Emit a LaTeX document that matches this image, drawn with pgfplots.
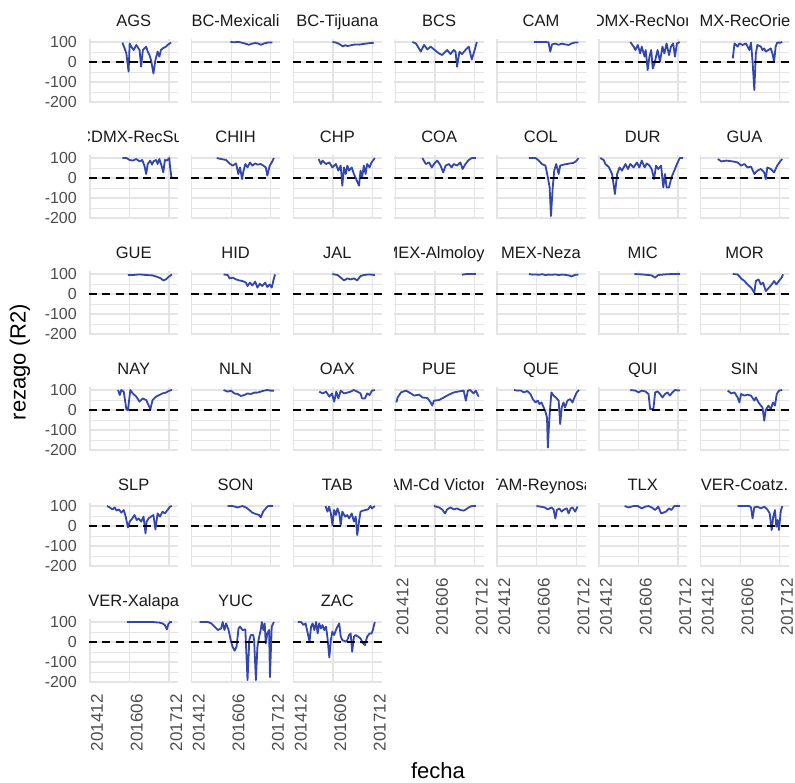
\documentclass[border=0pt]{standalone}
\usepackage{fontspec}
\setmainfont{Liberation Sans}
\usepackage{pgfplots}
\pgfplotsset{compat=1.18}
\usepgfplotslibrary{groupplots}
\definecolor{serblue}{RGB}{50,70,172}
\definecolor{gridc}{RGB}{228,228,228}
\definecolor{tickc}{RGB}{77,77,77}
\definecolor{stripc}{RGB}{26,26,26}
\newcommand{\tickfont}{\fontsize{16pt}{18pt}\selectfont}
\newcommand{\xtickfont}{\fontsize{17pt}{19pt}\selectfont}
\newcommand{\stripfont}{\fontsize{16.5pt}{19pt}\selectfont}
\newcommand{\titlefont}{\fontsize{22pt}{26pt}\selectfont}
\pgfplotsset{
 facet/.style={width=89.5pt,height=64pt,scale only axis,
  xmin=-0.4,xmax=40.3,ymin=-205,ymax=114.5,
  xtick={0,18,36}, ytick={-200,-100,0,100}, minor ytick={-150,-50,50},
  xticklabels={}, yticklabels={},
  grid=both, major grid style={gridc,line width=1.3pt}, minor grid style={gridc,line width=0.7pt},
  axis line style={draw=none}, major tick length=0pt, minor tick length=0pt, tick style={draw=none},
  yticklabel style={font=\tickfont, text=tickc, inner sep=0pt, xshift=-12pt},
  xticklabel style={font=\xtickfont, text=tickc, inner sep=0pt, xshift=1pt, yshift=-11pt, rotate=90, anchor=north east}},
 strip/.style={extra description/.code={\begin{scope}\clip (axis description cs:0,1) rectangle (axis description cs:1,1.7);\node[anchor=base, inner sep=0pt, font=\stripfont, text=stripc] at ([yshift=12.3pt]axis description cs:0.5,1) {#1};\end{scope}}},
 ylab/.style={yticklabels={-200,-100,0,100}},
 xlab/.style={xticklabels={201412,201606,201712}},
 ser/.style={serblue, line width=1.8pt, line join=round, mark=none},
 zero/.style={black, line width=1.6pt, dash pattern=on 8pt off 5.5pt, mark=none},
}
\newcommand{\zline}{\addplot[zero] coordinates {(-0.4,0) (40.3,0)};}
\begin{document}
\begin{tikzpicture}
\begin{groupplot}[group style={group size=7 by 6, horizontal sep=12.3pt, vertical sep=52pt, group name=G}, facet]
% row 1
\nextgroupplot[strip={AGS}, ylab]
\addplot[ser] coordinates {(14.8,97)(15.8,68)(16.6,43)(17.6,-48)(18.1,93)(18.8,77)(19.9,60)(21.1,85)(22.6,60)(23.3,-23)(24.1,60)(25.6,77)(26.3,52)(27.1,35)(27.8,10)(28.9,-57)(29.8,10)(30.8,52)(31.6,27)(32.3,60)(33.1,68)(34.6,77)(35.3,85)(36.9,97)};
\zline
\nextgroupplot[strip={BC-Mexicali}]
\addplot[ser] coordinates {(17.6,100)(19,99)(21.5,100)(23,96)(25,90)(26,86)(27.5,92)(29,95)(30.5,92)(31.5,86)(33,93)(35,98)(36.7,98)};
\zline
\nextgroupplot[strip={BC-Tijuana}]
\addplot[ser] coordinates {(17.7,100)(19,98)(20.5,92)(21.5,85)(22.5,78)(23.5,84)(24.5,80)(25.5,82)(27,86)(28.5,88)(30,87)(31.5,90)(33,92)(35,95)(36.5,96)};
\zline
\nextgroupplot[strip={BCS}]
\addplot[ser] coordinates {(7.8,100)(9.4,93)(11.6,52)(13.1,85)(14.6,63)(16.1,77)(17.6,63)(19.9,43)(21.3,35)(23.6,60)(25.1,40)(26.6,60)(27.4,52)(28.1,-23)(29.2,52)(30.3,40)(31.9,60)(33.4,77)(34.8,13)(36.1,60)(37.1,100)};
\zline
\nextgroupplot[strip={CAM}]
\addplot[ser] coordinates {(16.7,100)(19,100)(22,100)(23.4,98)(24.2,52)(25,88)(26.5,92)(28,86)(29.4,92)(31,88)(32.5,85)(34,93)(35.5,98)(37,98)};
\zline
\nextgroupplot[strip={CDMX-RecNorte}]
\addplot[ser] coordinates {(14.3,100)(15.8,77)(16.6,60)(17.7,85)(18.8,43)(19.5,77)(20.8,27)(21.3,60)(22.2,-40)(23,27)(23.8,60)(24.5,-32)(25.3,-7)(26,27)(26.7,60)(27.8,2)(28.9,77)(29.8,43)(30.8,93)(31.9,35)(32.8,77)(33.8,93)(34.6,27)(35.5,93)(36.8,100)};
\zline
\nextgroupplot[strip={CDMX-RecOriente}]
\addplot[ser] coordinates {(14.6,18)(15.4,93)(16.8,77)(17.6,93)(19.1,85)(20.6,93)(22.1,60)(22.9,97)(23.6,2)(24.4,-140)(25.1,43)(25.8,85)(27.4,77)(28.1,60)(28.9,68)(29.6,52)(30.8,60)(31.9,68)(32.6,43)(33.4,2)(34.1,77)(34.8,97)(36.4,97)(37.1,100)};
\zline
% row 2
\nextgroupplot[strip={CDMX-RecSur}, ylab]
\addplot[ser] coordinates {(14.8,100)(16.6,100)(18.1,90)(19.5,87)(21.1,95)(22.6,83)(23.8,90)(24.8,62)(25.6,20)(26.3,70)(27.4,87)(28.3,67)(28.9,83)(30.1,90)(30.8,70)(31.6,95)(32.6,62)(33.4,28)(34.1,90)(35,87)(36.1,100)(36.5,53)(37.1,3)};
\zline
\nextgroupplot[strip={CHIH}]
\addplot[ser] coordinates {(11.4,100)(13.4,95)(15.7,90)(17.5,70)(18.6,62)(20.2,73)(21.2,20)(22,53)(22.9,-5)(23.6,37)(24.4,70)(25.4,53)(26.5,78)(27.6,62)(28.9,73)(29.9,67)(31.4,70)(32.6,62)(33.7,53)(34.4,12)(35.5,62)(36.4,78)(37.4,100)};
\zline
\nextgroupplot[strip={CHP}]
\addplot[ser] coordinates {(11.4,95)(12.5,70)(13.2,87)(14.8,70)(16.3,78)(17.7,53)(19.3,70)(20.4,37)(21.5,62)(22.2,-38)(23,53)(23.8,20)(24.5,62)(25.3,37)(26.5,53)(27.5,20)(28.5,-5)(29.8,-38)(30.5,37)(31.2,3)(32,62)(32.8,20)(33.5,70)(34.6,53)(35.5,78)(37,100)};
\zline
\nextgroupplot[strip={COA}]
\addplot[ser] coordinates {(12.3,100)(13.9,70)(15.4,78)(16.6,53)(17.6,70)(19.1,87)(20.6,62)(21.8,28)(22.9,62)(24.4,70)(25.6,53)(26.6,70)(28.1,62)(29.6,78)(30.6,45)(31.9,70)(33.4,90)(34.8,100)(36.6,100)};
\zline
\nextgroupplot[strip={COL}]
\addplot[ser] coordinates {(14.5,100)(17.5,100)(19,87)(20.4,70)(22,62)(23.1,3)(23.9,-47)(24.5,-190)(25.3,-47)(26,37)(26.9,70)(28,20)(28.7,62)(30.2,67)(31.7,70)(33.2,73)(34.7,75)(36.2,87)(37,100)};
\zline
\nextgroupplot[strip={DUR}]
\addplot[ser] coordinates {(0.6,100)(2.2,90)(3,70)(4.6,53)(6,20)(7.3,-80)(8.3,20)(9.4,53)(10.5,37)(12.1,70)(13.2,45)(14.3,70)(15.8,53)(17.3,78)(18.4,53)(19.5,87)(20.8,53)(21.8,73)(23,62)(24,45)(25.1,-5)(26,62)(27,45)(28.3,62)(29.3,-47)(30.1,20)(30.8,-47)(31.9,-47)(33,3)(34.3,37)(35.5,70)(36.8,100)(38.3,100)};
\zline
\nextgroupplot[strip={GUA}]
\addplot[ser] coordinates {(7.8,95)(9.4,83)(11.6,87)(14.6,83)(16.8,78)(18.4,62)(19.9,70)(21.3,53)(22.9,57)(24.4,20)(25.8,37)(27.4,45)(28.9,28)(29.6,-5)(30.3,53)(31.9,45)(33.4,28)(34.8,62)(36.4,87)(37.1,95)};
\zline
% row 3
\nextgroupplot[strip={GUE}, ylab]
\addplot[ser] coordinates {(17.3,95)(19.5,95)(22.6,98)(25.6,95)(28.5,93)(30.8,85)(32.3,78)(33.4,68)(34.6,73)(35.7,85)(37.3,98)};
\zline
\nextgroupplot[strip={HID}]
\addplot[ser] coordinates {(14.5,98)(16.4,95)(17.2,78)(18.6,82)(20.2,73)(21.6,68)(23.1,65)(24.7,57)(25.4,40)(26.5,57)(27.6,43)(28.9,62)(29.9,32)(31,52)(32.1,40)(33.4,57)(34.4,35)(35.5,48)(36.4,32)(37.1,65)(37.9,98)};
\zline
\nextgroupplot[strip={JAL}]
\addplot[ser] coordinates {(17.7,100)(20,95)(21.5,82)(23,68)(24.5,78)(26,73)(27.5,78)(29,68)(30.5,90)(32,95)(34.3,98)(37,95)};
\zline
\nextgroupplot[strip={MEX-Almoloya}]
\addplot[ser] coordinates {(30.3,96)(31.5,99)(33,100)(35,100)(36.6,100)};
\zline
\nextgroupplot[strip={MEX-Neza}]
\addplot[ser] coordinates {(14.5,100)(16,97)(17.5,98)(19,96)(20.5,99)(22,95)(23.5,97)(25,96)(26.5,98)(28,95)(29.5,97)(31,96)(32.5,93)(34,88)(35.5,96)(37,97)};
\zline
\nextgroupplot[strip={MIC}]
\addplot[ser] coordinates {(16.2,100)(19.5,98)(22.6,95)(24,93)(25.6,82)(27,95)(30,98)(33,100)(36.8,100)};
\zline
\nextgroupplot[strip={MOR}]
\addplot[ser] coordinates {(14.6,100)(16.8,98)(18.4,78)(19.9,65)(21.3,48)(22.9,32)(24.4,7)(25.1,65)(26.3,73)(27.4,48)(28.4,57)(29.6,15)(31.1,32)(32.3,48)(33.4,65)(34.4,48)(35.6,65)(36.8,82)(37.5,98)};
\zline
% row 4
\nextgroupplot[strip={NAY}, ylab]
\addplot[ser] coordinates {(12.8,100)(13.6,75)(14.3,100)(15.4,92)(16.6,3)(17.3,0)(18.4,100)(19.5,83)(21.1,67)(22.6,42)(24,58)(25.6,50)(26.7,25)(27.5,3)(28.5,50)(30.1,67)(31.6,75)(33,83)(34.6,87)(36.1,97)(37.3,100)};
\zline
\nextgroupplot[strip={NLN}]
\addplot[ser] coordinates {(14.5,100)(16.4,92)(17.9,97)(19.4,83)(20.9,80)(22.4,70)(23.9,75)(25.4,83)(26.9,80)(28.4,87)(29.9,87)(31.4,92)(32.9,97)(34.4,100)(35.9,97)(37.4,97)};
\zline
\nextgroupplot[strip={OAX}]
\addplot[ser] coordinates {(11.7,92)(13.2,83)(14.8,92)(16.3,67)(17.5,83)(18.5,42)(19.5,92)(20.4,58)(21.5,97)(23,83)(24.5,87)(26,92)(27.5,100)(29,92)(30.5,83)(31.2,58)(32.5,58)(33.5,83)(34.6,75)(35.7,97)(37,100)};
\zline
\nextgroupplot[strip={PUE}]
\addplot[ser] coordinates {(0.5,38)(1.1,63)(2.6,88)(4.9,97)(7.1,83)(8.6,72)(10.9,77)(12.3,63)(14.6,60)(16.1,38)(16.8,22)(17.6,47)(19.9,50)(22.1,63)(24.4,77)(26.6,88)(28.9,93)(31.1,97)(32.1,47)(33,97)(34.1,100)(35.6,83)(36.6,97)(37.9,67)};
\zline
\nextgroupplot[strip={QUE}]
\addplot[ser] coordinates {(7.7,100)(9.2,97)(10.7,98)(12.2,88)(13.7,95)(15.2,80)(16.2,55)(17.5,38)(18.5,47)(19.3,30)(20.2,38)(21.2,13)(22,-8)(22.7,-37)(23.1,-187)(23.8,-37)(24.7,88)(25.7,72)(26.7,63)(28,47)(28.7,-70)(29.4,13)(30.2,38)(30.9,13)(32,47)(33.2,55)(34.3,38)(35.2,63)(36.2,88)(37.3,100)};
\zline
\nextgroupplot[strip={QUI}]
\addplot[ser] coordinates {(14.3,100)(16.6,97)(18.1,88)(19.5,97)(21.1,93)(22.6,80)(23.3,5)(24.8,5)(25.6,88)(26.7,93)(27.8,80)(28.9,63)(30.1,80)(31.2,88)(32.3,72)(33.4,88)(34.6,100)(36.8,97)};
\zline
\nextgroupplot[strip={SIN}]
\addplot[ser] coordinates {(12.3,97)(13.9,83)(15.4,88)(16.8,63)(17.6,38)(18.4,80)(19.9,72)(21.3,77)(22.9,72)(24.4,47)(25.1,63)(26.3,38)(27.4,22)(28.1,13)(28.9,-53)(29.6,0)(30.8,22)(31.9,5)(32.9,38)(33.8,22)(34.6,80)(35.6,97)(37.1,100)};
\zline
% row 5
\nextgroupplot[strip={SLP}, ylab]
\addplot[ser] coordinates {(7.8,100)(9,93)(10.3,83)(11.3,93)(12.1,77)(13.2,83)(14.3,67)(15.4,80)(16.3,47)(17.3,-7)(18.1,22)(19.3,38)(20.3,55)(21.3,30)(22.2,38)(23.3,22)(24.4,47)(25.3,-37)(25.8,22)(26.7,38)(27.8,47)(28.9,55)(29.8,-17)(30.8,63)(31.9,47)(33,72)(34.1,63)(35.3,80)(36.4,97)(37.3,100)};
\zline
\nextgroupplot[strip={SON}]
\addplot[ser] coordinates {(16.4,100)(18.6,100)(20.9,93)(23.1,100)(24.7,93)(26.2,80)(27.6,67)(29.2,60)(30.7,55)(31.4,43)(32.5,72)(33.7,88)(34.8,100)(37,100)};
\zline
\nextgroupplot[strip={TAB}]
\addplot[ser] coordinates {(14.5,100)(15.5,72)(16.2,97)(17,63)(17.7,5)(18.5,80)(19.3,55)(20,88)(20.8,63)(21.5,5)(22.2,72)(23.5,47)(24.5,55)(25.3,38)(26.5,63)(27.5,22)(28.3,47)(29,-45)(29.8,22)(30.5,72)(31.6,77)(32.8,80)(33.9,83)(35,100)(35.7,88)(37,100)};
\zline
\nextgroupplot[strip={TAM-Cd Victoria}, xlab]
\addplot[ser] coordinates {(17.6,100)(19.9,93)(21.3,83)(22.6,63)(23.6,83)(25.1,93)(26.6,83)(28.1,88)(29.6,80)(31.1,77)(32.1,83)(33.4,93)(34.8,100)(36.6,100)};
\zline
\nextgroupplot[strip={TAM-Reynosa}, xlab]
\addplot[ser] coordinates {(17.9,100)(19.7,97)(21.6,93)(23.1,83)(24.7,93)(25.7,83)(26.5,38)(27.2,80)(28.3,88)(29.4,72)(30.5,83)(31.7,88)(32.5,63)(33.5,88)(34.3,93)(35.5,72)(36.6,97)};
\zline
\nextgroupplot[strip={TLX}, xlab]
\addplot[ser] coordinates {(11.7,100)(13.6,93)(15.8,100)(17.7,100)(19.5,88)(21.1,97)(22.6,100)(24,93)(25.6,80)(27,97)(28.3,63)(29.3,67)(30.5,72)(31.9,88)(33,80)(34.3,100)(36.8,100)};
\zline
\nextgroupplot[strip={VER-Coatz.}, xlab]
\addplot[ser] coordinates {(16.8,100)(19.1,100)(22.1,100)(22.9,93)(23.6,38)(24.4,93)(25.8,97)(27.4,88)(28.9,97)(30.3,83)(31.4,63)(32.3,-20)(33,47)(33.8,80)(34.4,-3)(35,30)(35.6,-20)(36.4,72)(37.1,100)};
\zline
% row 6
\nextgroupplot[strip={VER-Xalapa}, ylab, xlab]
\addplot[ser] coordinates {(16.8,100)(19.5,100)(22.6,100)(25.6,100)(28.5,100)(31.6,97)(33,93)(34.1,85)(35,63)(35.7,90)(36.5,100)(37.3,100)};
\zline
\nextgroupplot[strip={YUC}, xlab]
\addplot[ser] coordinates {(3.6,100)(7.4,100)(8.9,93)(10.4,77)(11.9,60)(13.4,68)(14.1,100)(14.9,60)(15.7,93)(16.8,60)(17.9,2)(18.6,-23)(19.5,-43)(20.4,-23)(21.3,68)(22,77)(23.1,60)(24.4,63)(25.4,-190)(26.2,10)(26.9,35)(28,35)(28.4,10)(29.2,-190)(29.9,-23)(30.7,27)(31.4,60)(31.9,100)(32.6,60)(33.2,93)(33.7,-7)(34.4,43)(35.2,60)(35.6,-175)(36.4,77)(37.4,100)};
\zline
\nextgroupplot[strip={ZAC}, xlab]
\addplot[ser] coordinates {(2,100)(3.5,100)(4.6,85)(5.5,93)(6.5,43)(7.3,2)(8,77)(8.7,93)(9.5,60)(10.3,100)(11,43)(11.7,93)(12.5,68)(13.2,85)(14,60)(14.8,77)(15.5,18)(16.3,-77)(17,10)(17.7,52)(18.5,35)(19.3,60)(20,77)(20.8,93)(21.5,27)(22.2,10)(23.8,2)(24.5,10)(25.3,35)(26,43)(26.7,-48)(27.5,27)(28.3,35)(29.4,27)(30.5,18)(31.6,-7)(32.5,-15)(33.5,27)(34.6,43)(35.5,43)(36.1,60)(37,100)};
\zline
\end{groupplot}
\node[rotate=90, font=\titlefont, inner sep=0pt] at ([xshift=-69pt,yshift=-322.9pt]G c1r1.north west) {rezago (R2)};
\node[anchor=base, font=\titlefont, inner sep=0pt] at ([xshift=349pt,yshift=-739.5pt]G c1r1.north west) {fecha};
\pgfresetboundingbox
\path[use as bounding box] ([xshift=-89pt,yshift=39.1pt]G c1r1.north west) rectangle ([xshift=706pt,yshift=-742.9pt]G c1r1.north west);
\end{tikzpicture}
\end{document}
